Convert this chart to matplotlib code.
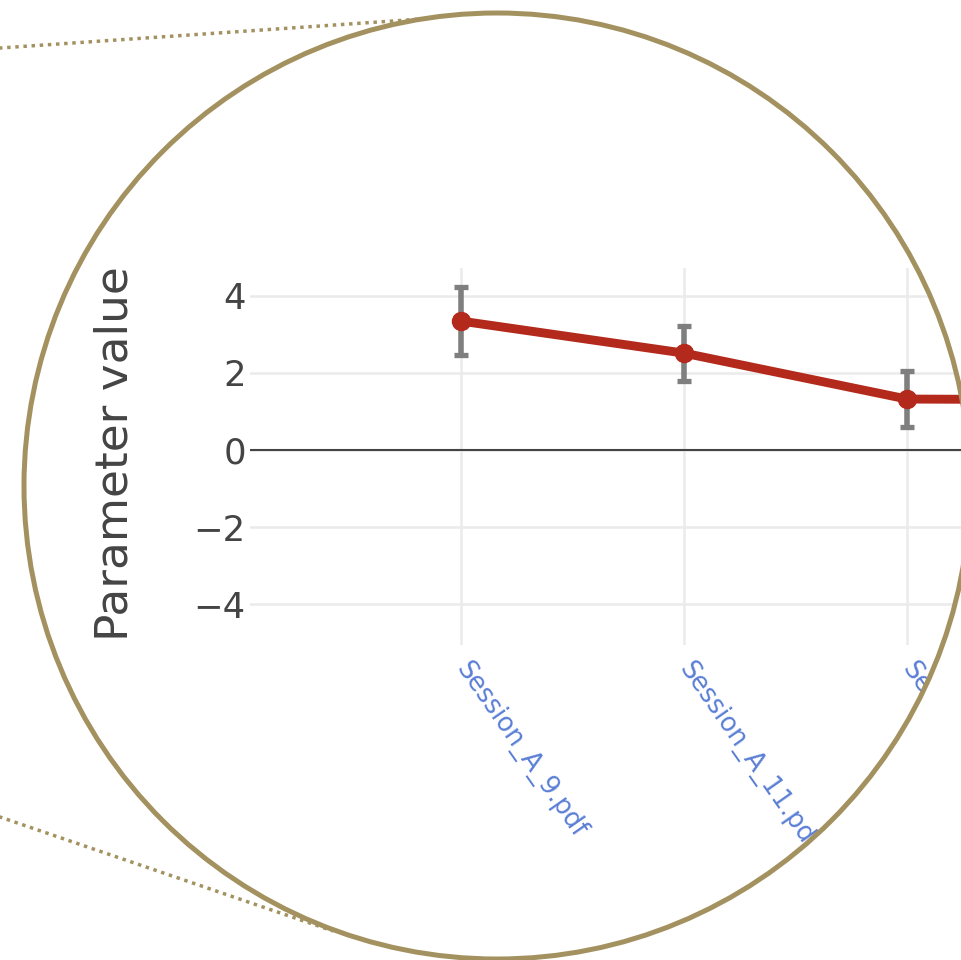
import numpy as np
import matplotlib
matplotlib.use("Agg")
import matplotlib.pyplot as plt
from matplotlib.patches import PathPatch, Circle
from matplotlib.path import Path

plt.rcParams['font.family'] = ['DejaVu Sans']

# ---- data ----
sessions = ["Session_A_9.pdf", "Session_A_11.pdf", "Session_A_13.pdf", "Session_A_15.pdf"]
param_mean = [3.34, 2.51, 1.32, 1.30]
param_err = [0.88, 0.71, 0.72, 0.70]
y_ticks = [-4, -2, 0, 2, 4]

# ---- styling ----
GOLD = '#a39260'
RED = '#b3291b'
ERR_GREY = '#7f7f7f'
GRID = '#ebebeb'
TEXT = '#444444'
TICK_BLUE = '#5b7fd6'

W, H = 962, 960
fig = plt.figure(figsize=(W / 100, H / 100), dpi=100)

# magnified plot area (pixel bounds, measured from the top-left corner)
left, right, top, bottom = 250, 1250, 268, 645
ax = fig.add_axes([left / W, 1 - bottom / H, (right - left) / W, (bottom - top) / H])
x = np.arange(len(sessions))
cat_step, cat0 = 223, 461
ax.set_xlim((left - cat0) / cat_step, (right - cat0) / cat_step)
ax.set_ylim(-5.05, 4.715)

ax.set_xticks(x, sessions)
ax.set_yticks(y_ticks)
ax.grid(True, color=GRID, lw=1.8)
ax.set_axisbelow(True)
for s in ax.spines.values():
    s.set_visible(False)
ax.tick_params(axis='both', length=0)
ax.tick_params(axis='y', labelsize=25.5, labelcolor=TEXT, pad=3)
ax.tick_params(axis='x', labelsize=18.5, labelcolor=TICK_BLUE, pad=14)
for lab in ax.get_xticklabels():
    lab.set_rotation(-55)
    lab.set_rotation_mode('anchor')
    lab.set_ha('left')
    lab.set_va('center')

ax.axhline(0, color=TEXT, lw=1.5, zorder=1.5)
ax.errorbar(x, param_mean, yerr=param_err, fmt='none', ecolor=ERR_GREY,
            elinewidth=4, capsize=4.7, capthick=3.8, zorder=2)
ax.plot(x, param_mean, color=RED, lw=6.4, marker='o', ms=13, zorder=3,
        solid_capstyle='round')

fig.text(115 / W, 1 - 454 / H, "Parameter value", rotation=90,
         ha='center', va='center', fontsize=32.7, color=TEXT)

# ---- magnifier lens overlay ----
ov = fig.add_axes([0, 0, 1, 1], zorder=10)
ov.set_xlim(0, W)
ov.set_ylim(H, 0)
ov.axis('off')
ov.patch.set_alpha(0)

cx, cy, r = 497.0, 486.0, 473.0
t = np.linspace(0, 2 * np.pi, 721)
ring = np.column_stack([cx + r * np.cos(-t), cy + r * np.sin(-t)])
outer = np.array([[-20, -20], [W + 20, -20], [W + 20, H + 20], [-20, H + 20], [-20, -20]])
verts = np.vstack([outer, ring])
codes = ([Path.MOVETO] + [Path.LINETO] * 3 + [Path.CLOSEPOLY]
         + [Path.MOVETO] + [Path.LINETO] * (len(ring) - 2) + [Path.CLOSEPOLY])
ov.add_patch(PathPatch(Path(verts, codes), fc='white', ec='none', zorder=1))


def to_lens(p0, p1):
    """Extend the ray p0 -> p1 until it meets the lens rim (or stop at p1)."""
    p0, p1 = np.asarray(p0, float), np.asarray(p1, float)
    d = p1 - p0
    f = p0 - np.array([cx, cy])
    a, b, c = d @ d, 2 * f @ d, f @ f - r * r
    disc = b * b - 4 * a * c
    if disc < 0:
        return p1
    tt = (-b - np.sqrt(disc)) / (2 * a)
    return p0 + tt * d


for p0, p1 in [((-10, 48.7), (400, 20.5)), ((-10, 813.6), (333, 931))]:
    end = to_lens(p0, p1)
    ov.plot([p0[0], end[0]], [p0[1], end[1]], color=GOLD, lw=2.5,
            linestyle=(0, (1, 1.35)), dash_capstyle='butt', zorder=2)

ov.add_patch(Circle((cx, cy), r, fill=False, ec=GOLD, lw=3.6, zorder=3))

fig.savefig('out.png', dpi=100, facecolor='white')
